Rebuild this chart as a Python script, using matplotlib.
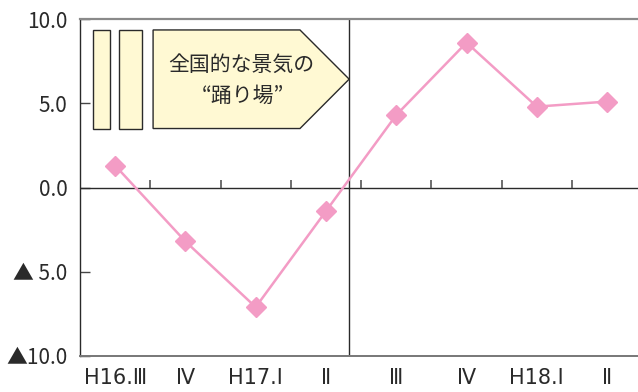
import matplotlib.pyplot as plt
from matplotlib.patches import Polygon, Rectangle

plt.rcParams['font.family'] = ['Noto Sans CJK JP', 'DejaVu Sans']

# quarterly values (%)
quarters = ['H16.Ⅲ', 'Ⅳ', 'H17.Ⅰ', 'Ⅱ', 'Ⅲ', 'Ⅳ', 'H18.Ⅰ', 'Ⅱ']
values = [1.3, -3.2, -7.1, -1.4, 4.3, 8.6, 4.8, 5.1]
ytick_vals = [10, 5, 0, -5, -10]
ytick_labels = ['10.0', '5.0', '0.0', '▲ 5.0', '▲10.0']
note_lines = ['全国的な景気の', '“踊り場”']

pink = '#F39CC5'
box_fill = '#FFF9D3'
dark = '#2a2a2a'

fig = plt.figure(figsize=(6.38, 3.92), dpi=100)
ax = fig.add_axes([80 / 638, 1 - 356 / 392, 1 - 80 / 638, (356 - 19) / 392])

x = list(range(len(quarters)))
ax.plot(x, values, color=pink, lw=1.8, marker='D', markersize=10.5,
        markerfacecolor=pink, markeredgecolor=pink, zorder=4)

ax.set_xlim(-0.5, 7.44)
ax.set_ylim(-10, 10)

# zero line with small upward ticks between quarters
ax.axhline(0, color=dark, lw=1.0, zorder=2)
ax.vlines([i + 0.5 for i in range(len(quarters) - 1)], 0, 0.45, color='#555555', lw=1.2, zorder=2)

# divider between the plateau and recovery
ax.axvline(3.33, color=dark, lw=1.0, zorder=2)

# plateau marker boxes
ax.add_patch(Rectangle((-0.31, 3.5), 0.23, 5.85, facecolor=box_fill, edgecolor=dark, lw=1.0, zorder=3))
ax.add_patch(Rectangle((0.057, 3.5), 0.33, 5.85, facecolor=box_fill, edgecolor=dark, lw=1.0, zorder=3))
ax.add_patch(Polygon([(0.54, 9.35), (2.63, 9.35), (3.33, 6.43), (2.63, 3.5), (0.54, 3.5)],
                     closed=True, facecolor=box_fill, edgecolor=dark, lw=1.0, zorder=3))
ax.text(1.8, 7.25, note_lines[0], ha='center', va='center', fontsize=15, color=dark, zorder=5)
ax.text(1.82, 5.45, note_lines[1], ha='center', va='center', fontsize=15, color=dark, zorder=5)

ax.set_xticks(x)
ax.set_xticklabels(quarters, fontsize=15, color=dark, family=['DejaVu Sans Condensed', 'DejaVu Sans'])
ax.tick_params(axis='x', length=0, pad=9)
ax.set_yticks(ytick_vals)
ax.set_yticklabels(ytick_labels, fontsize=15, color=dark)
ax.tick_params(axis='y', direction='in', length=7, width=1, color='#444444', pad=9)

ax.spines['right'].set_visible(False)
ax.spines['top'].set_color('#8a8a8a')
ax.spines['top'].set_linewidth(1.6)
ax.spines['bottom'].set_color('#777777')
ax.spines['bottom'].set_linewidth(1.4)
ax.spines['left'].set_color(dark)
ax.spines['left'].set_linewidth(1.0)

fig.savefig('out.png', dpi=100)
